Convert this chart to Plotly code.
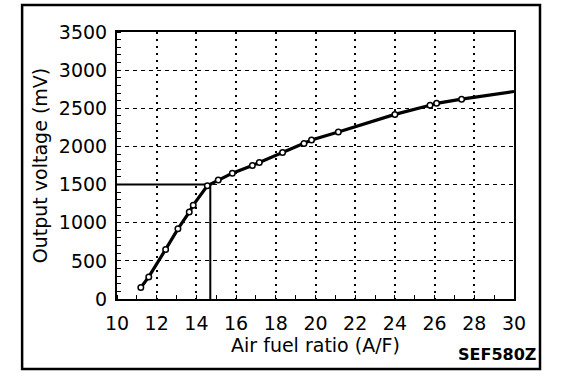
import plotly.graph_objects as go

# Data
afr = [11.2, 11.6, 12.45, 13.07, 13.64, 13.84, 14.55, 15.1, 15.81, 16.82, 17.17,
       18.34, 19.42, 19.8, 21.15, 24.0, 25.77, 26.1, 27.36]
mv = [150, 290, 650, 920, 1140, 1230, 1485, 1560, 1650, 1750, 1790,
      1920, 2040, 2085, 2190, 2420, 2540, 2565, 2620]
curve_end_afr = 30
curve_end_mv = 2720
stoich_afr = 14.7
stoich_mv = 1500
x_ticks = [10, 12, 14, 16, 18, 20, 22, 24, 26, 28, 30]
y_ticks = [0, 500, 1000, 1500, 2000, 2500, 3000, 3500]

FONT = "DejaVu Sans, Arial, sans-serif"

fig = go.Figure()

# Reference lines at stoichiometric point
fig.add_trace(go.Scatter(x=[10, stoich_afr, stoich_afr], y=[stoich_mv, stoich_mv, 0],
                         mode="lines", line=dict(color="black", width=2),
                         hoverinfo="skip", showlegend=False))
# Curve
fig.add_trace(go.Scatter(x=afr + [curve_end_afr], y=mv + [curve_end_mv],
                         mode="lines", line=dict(color="black", width=3.2),
                         showlegend=False))
# Markers
fig.add_trace(go.Scatter(x=afr, y=mv, mode="markers",
                         marker=dict(symbol="circle", size=5.5, color="white",
                                     line=dict(color="black", width=1.5)),
                         showlegend=False))

fig.update_xaxes(range=[10, 30], tickvals=x_ticks, ticktext=[str(v) for v in x_ticks],
                 automargin=False,
                 showgrid=True, gridcolor="black", gridwidth=1.8, griddash="2px,5px",
                 showline=True, linecolor="black", linewidth=2, mirror=True,
                 ticks="", zeroline=False,
                 minor=dict(dtick=1, ticks="inside", ticklen=4, tickcolor="black", showgrid=False),
                 tickfont=dict(family=FONT, size=19, color="black"),
                 ticklabelstandoff=6,
                 title=dict(text="Air fuel ratio (A/F)", font=dict(family=FONT, size=19, color="black"),
                            standoff=2))
fig.update_yaxes(range=[0, 3500], tickvals=y_ticks, ticktext=[str(v) for v in y_ticks],
                 automargin=False,
                 showgrid=True, gridcolor="black", gridwidth=1.4, griddash="4px,4px",
                 showline=True, linecolor="black", linewidth=2, mirror=True,
                 ticks="", zeroline=False,
                 minor=dict(dtick=100, ticks="inside", ticklen=4, tickcolor="black", showgrid=False),
                 tickfont=dict(family=FONT, size=19, color="black"),
                 ticklabelstandoff=4,
                 title=dict(text="Output voltage (mV)", font=dict(family=FONT, size=19, color="black"),
                            standoff=6))

fig.update_layout(
    width=576, height=380,
    margin=dict(l=117, r=62, t=32, b=81),
    paper_bgcolor="white", plot_bgcolor="white",
    shapes=[dict(type="rect", xref="paper", yref="paper",
                 x0=-0.239, x1=1.0655, y0=-0.262, y1=1.101,
                 line=dict(color="black", width=2.5), layer="above")],
    annotations=[dict(text="<b>SEF580Z</b>", xref="paper", yref="paper",
                      x=1.06, y=-0.25, xanchor="right", yanchor="bottom",
                      showarrow=False, font=dict(family=FONT, size=16, color="black"))],
)

fig.write_html("out.html", config={"displayModeBar": False},
               post_script="document.body.style.margin='0';document.body.style.padding='0';")
